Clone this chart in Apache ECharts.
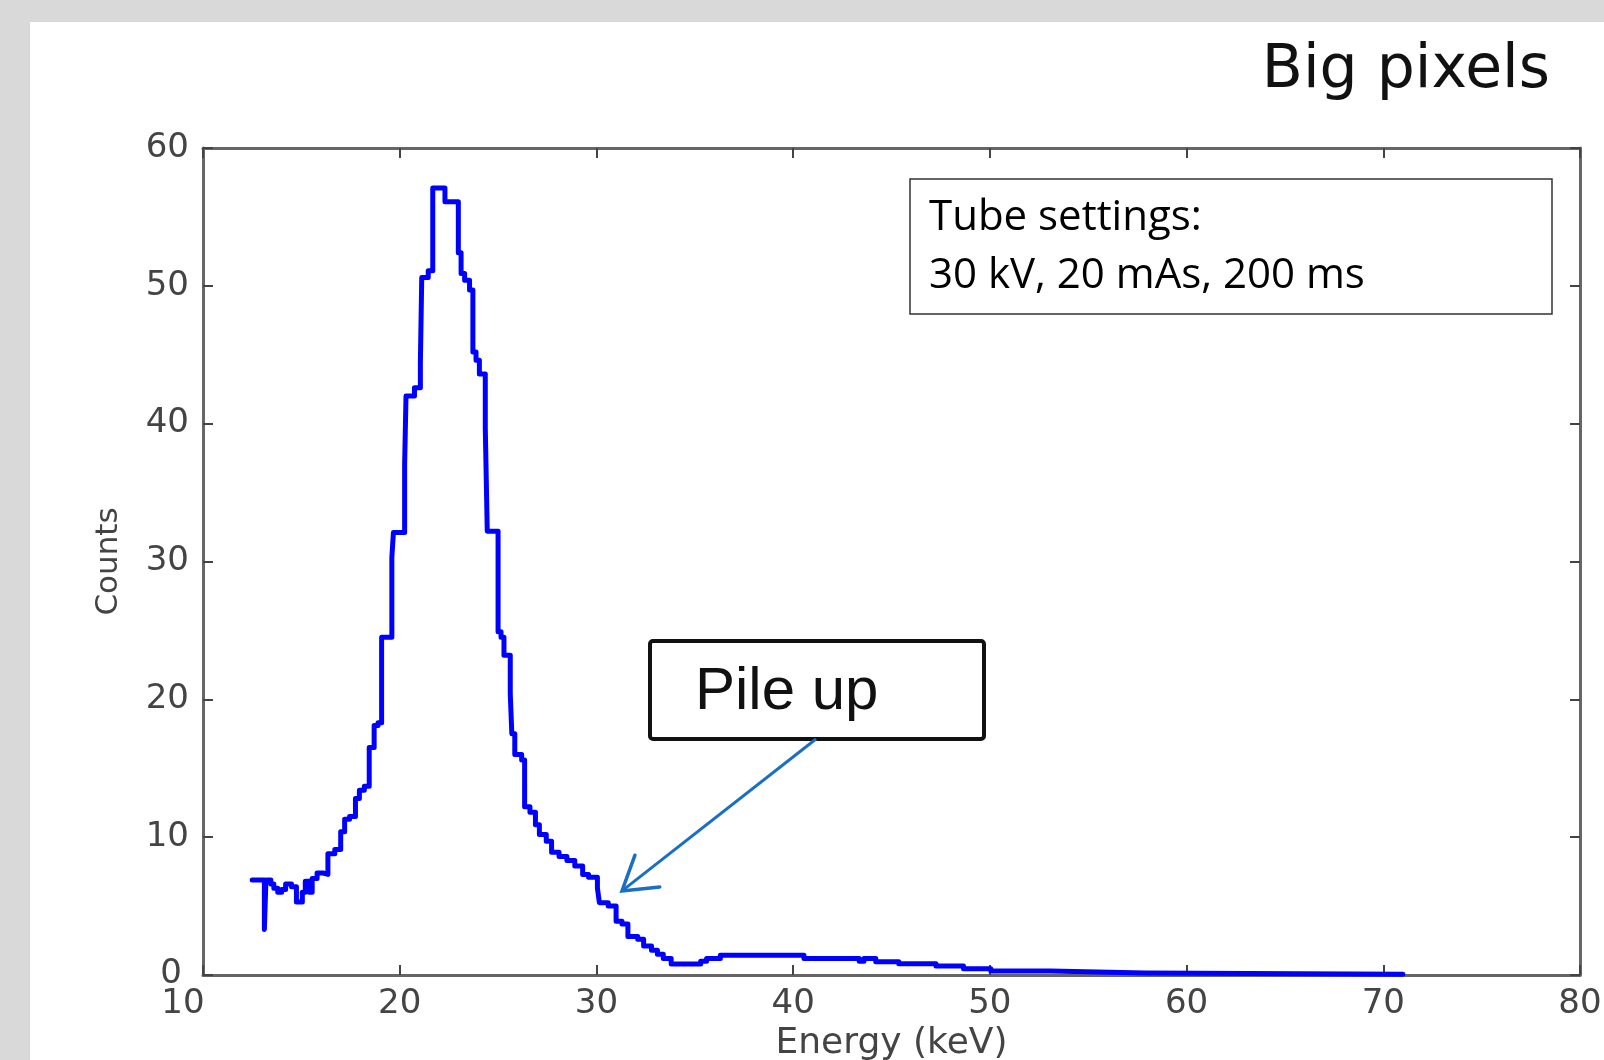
<!DOCTYPE html>
<html>
<head>
<meta charset="utf-8">
<title>Big pixels</title>
<script src="https://cdn.jsdelivr.net/npm/echarts@6/dist/echarts.min.js"></script>
<style>
  html, body { margin: 0; padding: 0; }
  body { width: 1604px; height: 1060px; background: #d9d9d9; position: relative; overflow: hidden; }
  #spectrum { position: absolute; left: 30px; top: 22px; width: 1574px; height: 1038px; background: #ffffff; }
</style>
</head>
<body>
<div id="spectrum"></div>
<script>
// left bin edge (keV) and counts of each step
const energy = [
  12.5, 13.12, 13.2, 13.45, 13.6, 13.8, 14.0, 14.2, 14.5, 14.75,
  15.05, 15.2, 15.4, 15.55, 15.8, 16.1, 16.35, 16.7, 17.0, 17.2,
  17.45, 17.75, 17.95, 18.2, 18.45, 18.7, 18.9, 19.08, 19.6, 19.68,
  20.25, 20.32, 20.75, 21.05, 21.12, 21.45, 21.68, 22.3, 22.98, 23.12,
  23.3, 23.55, 23.72, 23.88, 24.05, 24.35, 24.45, 25.0, 25.15, 25.3,
  25.62, 25.7, 25.85, 26.2, 26.35, 26.62, 26.9, 27.1, 27.45, 27.72,
  28.1, 28.5, 28.9, 29.3, 29.6, 30.05, 30.15, 30.6, 31.0, 31.3,
  31.6, 32.1, 32.4, 32.8, 33.1, 33.4, 33.8, 35.3, 35.6, 36.3,
  37.0, 40.55, 43.36, 43.6, 44.2, 45.37, 47.26, 48.66, 50.05, 53.06,
  57.9, 71.0
]
const counts = [
  6.9, 3.3, 6.9, 6.6, 6.3, 6.0, 6.2, 6.6, 6.4, 5.3,
  6.0, 6.8, 6.0, 7.0, 7.4, 7.3, 8.8, 9.1, 10.4, 11.3,
  11.5, 12.8, 13.4, 13.7, 16.5, 18.1, 18.3, 24.5, 30.3, 32.1,
  37.0, 42.0, 42.6, 44.4, 50.6, 51.1, 57.1, 56.1, 52.4, 50.9,
  50.4, 49.7, 45.2, 44.6, 43.6, 39.7, 32.2, 24.9, 24.5, 23.2,
  20.4, 17.5, 16.0, 15.6, 12.2, 11.8, 10.9, 10.2, 9.7, 8.9,
  8.6, 8.3, 7.9, 7.3, 7.1, 6.3, 5.25, 5.0, 3.9, 3.7,
  2.8, 2.6, 2.1, 1.8, 1.5, 1.2, 0.8, 1.0, 1.2, 1.43,
  1.43, 1.2, 1.0, 1.2, 0.97, 0.82, 0.65, 0.46, 0.29, 0.15,
  0.05, 0.05
]

const xTicks = [10, 20, 30, 40, 50, 60, 70, 80]
const yTicks = [0, 10, 20, 30, 40, 50, 60]

const title = 'Big pixels'
const xName = 'Energy (keV)'
const yName = 'Counts'
const tubeLines = ['Tube settings:', '30 kV, 20 mAs, 200 ms']
const pileLabel = 'Pile up'
// where the "Pile up" arrow points, in data units
const pileTip = [31.3, 6.1]

const axisGray = '#666666'
const labelGray = '#444444'
const tickFont = 'DejaVu Sans'

var chartDom = document.getElementById('spectrum')
var chart = echarts.init(chartDom, null, { width: 1574, height: 1038 })

var tickStyle = { show: true, inside: true, length: 10, lineStyle: { color: '#444', width: 2 } }
var lineStyle = { show: true, onZero: false, lineStyle: { color: axisGray, width: 3 } }

var option = {
  animation: false,
  grid: { left: 173, top: 126, right: 24, bottom: 85, containLabel: false, outerBoundsMode: 'none' },
  xAxis: [
    {
      type: 'value',
      min: xTicks[0],
      max: xTicks[xTicks.length - 1],
      interval: 10,
      position: 'bottom',
      name: xName,
      nameLocation: 'middle',
      nameGap: 46,
      nameTextStyle: { fontFamily: tickFont, fontSize: 36, color: labelGray },
      axisLine: lineStyle,
      axisTick: tickStyle,
      splitLine: { show: false },
      axisLabel: {
        margin: 12,
        fontFamily: tickFont,
        fontSize: 34,
        color: labelGray,
        formatter: function (v) {
          return v === xTicks[0] ? '{first|' + v + '}' : '' + v
        },
        rich: {
          first: { fontFamily: tickFont, fontSize: 34, color: labelGray, padding: [0, 40, 0, 0] }
        }
      }
    },
    {
      type: 'value',
      min: xTicks[0],
      max: xTicks[xTicks.length - 1],
      interval: 10,
      position: 'top',
      axisLine: lineStyle,
      axisTick: tickStyle,
      axisLabel: { show: false },
      splitLine: { show: false }
    }
  ],
  yAxis: [
    {
      type: 'value',
      min: yTicks[0],
      max: yTicks[yTicks.length - 1],
      interval: 10,
      position: 'left',
      name: yName,
      nameLocation: 'middle',
      nameGap: 79,
      nameTextStyle: { fontFamily: tickFont, fontSize: 31, color: labelGray },
      axisLine: lineStyle,
      axisTick: tickStyle,
      splitLine: { show: false },
      axisLabel: {
        margin: 14,
        fontFamily: tickFont,
        fontSize: 34,
        color: labelGray,
        formatter: function (v) {
          return v === 0 ? '{zero|0}' : '' + v
        },
        rich: {
          zero: { fontFamily: tickFont, fontSize: 34, color: labelGray, padding: [0, 7, 2, 0] }
        }
      }
    },
    {
      type: 'value',
      min: yTicks[0],
      max: yTicks[yTicks.length - 1],
      interval: 10,
      position: 'right',
      axisLine: lineStyle,
      axisTick: tickStyle,
      axisLabel: { show: false },
      splitLine: { show: false }
    }
  ],
  series: [
    {
      type: 'line',
      step: 'end',
      showSymbol: false,
      xAxisIndex: 0,
      yAxisIndex: 0,
      lineStyle: { color: '#0000ff', width: 5, join: 'round', cap: 'round' },
      data: energy.map((e, i) => [e, counts[i]])
    }
  ]
}

option && chart.setOption(option)

// annotations: title, tube settings box, pile up box with arrow
var tip = chart.convertToPixel({ gridIndex: 0 }, pileTip)
var tail = [786, 717]
var dx = tail[0] - tip[0], dy = tail[1] - tip[1]
var len = Math.sqrt(dx * dx + dy * dy)
var ux = dx / len, uy = dy / len
var barb = 38, ang = 32 * Math.PI / 180
function rot(a) {
  return [tip[0] + barb * (ux * Math.cos(a) - uy * Math.sin(a)),
          tip[1] + barb * (ux * Math.sin(a) + uy * Math.cos(a))]
}

chart.setOption({
  graphic: [
    {
      type: 'text', right: 54, top: 19,
      style: { text: title, fontFamily: tickFont, fontSize: 60, fill: '#111' }
    },
    {
      type: 'rect', z: 10,
      shape: { x: 880, y: 157, width: 642, height: 135 },
      style: { fill: '#ffffff', stroke: '#333', lineWidth: 1.5 }
    },
    {
      type: 'text', z: 11, x: 899, y: 196,
      style: { text: tubeLines[0], fontFamily: 'Open Sans', fontSize: 42, fill: '#000', verticalAlign: 'middle' }
    },
    {
      type: 'text', z: 11, x: 899, y: 254,
      style: { text: tubeLines[1], fontFamily: 'Open Sans', fontSize: 42, fill: '#000', verticalAlign: 'middle' }
    },
    {
      type: 'rect', z: 10,
      shape: { x: 620, y: 619, width: 334, height: 98, r: 3 },
      style: { fill: '#ffffff', stroke: '#111', lineWidth: 4 }
    },
    {
      type: 'text', z: 11, x: 665, y: 670,
      style: { text: pileLabel, fontFamily: 'Liberation Sans', fontSize: 60, fill: '#111', verticalAlign: 'middle' }
    },
    {
      type: 'polyline', z: 12,
      shape: { points: [tail, tip] },
      style: { stroke: '#1a6fc4', lineWidth: 3, fill: null }
    },
    {
      type: 'polyline', z: 12,
      shape: { points: [rot(-ang), tip, rot(ang)] },
      style: { stroke: '#1a6fc4', lineWidth: 3.5, fill: null, lineCap: 'round' }
    }
  ]
})

window.addEventListener('resize', function () {
  chart?.resize()
})
</script>
</body>
</html>
